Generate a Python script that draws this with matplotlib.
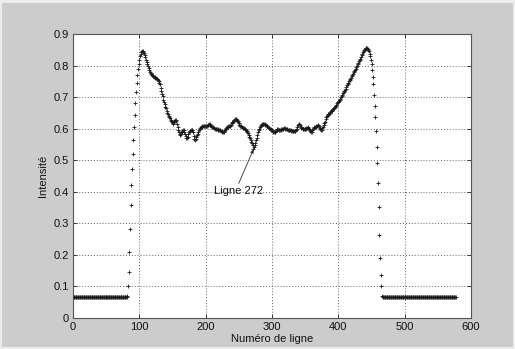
import numpy as np
import matplotlib
matplotlib.use("Agg")
import matplotlib.pyplot as plt
from matplotlib.patches import Rectangle

plt.rcParams['font.family'] = ['Liberation Sans', 'DejaVu Sans']

# ---- data (intensity per line number) ----
flat_left = [0.065] * 81          # lines 1..81
profile = [                        # lines 82..466
    0.070, 0.101, 0.147, 0.209, 0.282, 0.359, 0.420, 0.473, 0.520, 0.563,
    0.604, 0.644, 0.680, 0.716, 0.746, 0.769, 0.788, 0.805, 0.818, 0.829,
    0.837, 0.842, 0.845, 0.846, 0.843, 0.839, 0.834, 0.827, 0.819, 0.811,
    0.805, 0.798, 0.792, 0.786, 0.781, 0.777, 0.773, 0.770, 0.768, 0.766,
    0.764, 0.763, 0.761, 0.760, 0.758, 0.756, 0.754, 0.751, 0.746, 0.740,
    0.730, 0.720, 0.710, 0.703, 0.692, 0.685, 0.678, 0.670, 0.664, 0.656,
    0.650, 0.645, 0.640, 0.636, 0.633, 0.628, 0.624, 0.620, 0.618, 0.616,
    0.620, 0.624, 0.627, 0.629, 0.625, 0.615, 0.606, 0.597, 0.590, 0.584,
    0.580, 0.583, 0.588, 0.593, 0.596, 0.595, 0.590, 0.583, 0.576, 0.571,
    0.570, 0.575, 0.582, 0.588, 0.592, 0.594, 0.596, 0.597, 0.597, 0.590,
    0.578, 0.568, 0.565, 0.568, 0.574, 0.579, 0.583, 0.588, 0.595, 0.600,
    0.603, 0.605, 0.606, 0.608, 0.608, 0.607, 0.609, 0.608, 0.607, 0.608,
    0.610, 0.612, 0.613, 0.614, 0.614, 0.612, 0.609, 0.606, 0.604, 0.604,
    0.603, 0.601, 0.600, 0.599, 0.599, 0.598, 0.598, 0.597, 0.596, 0.596,
    0.596, 0.594, 0.592, 0.590, 0.589, 0.589, 0.592, 0.596, 0.600, 0.603,
    0.604, 0.606, 0.607, 0.608, 0.609, 0.610, 0.613, 0.617, 0.620, 0.622,
    0.625, 0.628, 0.631, 0.632, 0.630, 0.627, 0.624, 0.621, 0.617, 0.613,
    0.610, 0.608, 0.607, 0.605, 0.603, 0.602, 0.601, 0.600, 0.598, 0.595,
    0.592, 0.589, 0.585, 0.580, 0.575, 0.570, 0.565, 0.559, 0.553, 0.547,
    0.534, 0.541, 0.548, 0.556, 0.565, 0.572, 0.580, 0.588, 0.595, 0.600,
    0.605, 0.609, 0.612, 0.614, 0.615, 0.616, 0.615, 0.614, 0.613, 0.612,
    0.610, 0.607, 0.605, 0.603, 0.602, 0.600, 0.598, 0.597, 0.595, 0.593,
    0.591, 0.589, 0.588, 0.590, 0.593, 0.596, 0.598, 0.598, 0.597, 0.596,
    0.596, 0.597, 0.598, 0.599, 0.600, 0.600, 0.601, 0.601, 0.600, 0.599,
    0.598, 0.598, 0.597, 0.597, 0.596, 0.596, 0.595, 0.594, 0.594, 0.593,
    0.594, 0.593, 0.593, 0.593, 0.595, 0.600, 0.606, 0.611, 0.614, 0.615,
    0.611, 0.606, 0.602, 0.601, 0.600, 0.599, 0.598, 0.598, 0.598, 0.599,
    0.601, 0.603, 0.604, 0.603, 0.600, 0.596, 0.592, 0.590, 0.590, 0.595,
    0.600, 0.602, 0.604, 0.604, 0.606, 0.608, 0.610, 0.612, 0.612, 0.608,
    0.603, 0.598, 0.596, 0.597, 0.601, 0.606, 0.612, 0.618, 0.622, 0.630,
    0.636, 0.640, 0.643, 0.645, 0.647, 0.650, 0.653, 0.655, 0.657, 0.660,
    0.662, 0.664, 0.667, 0.669, 0.672, 0.676, 0.680, 0.683, 0.685, 0.688,
    0.691, 0.694, 0.699, 0.704, 0.708, 0.712, 0.716, 0.719, 0.722, 0.727,
    0.732, 0.737, 0.742, 0.746, 0.750, 0.754, 0.758, 0.762, 0.766, 0.770,
    0.774, 0.778, 0.782, 0.786, 0.790, 0.795, 0.799, 0.804, 0.808, 0.813,
    0.818, 0.822, 0.827, 0.832, 0.837, 0.842, 0.846, 0.850, 0.853, 0.856,
    0.857, 0.856, 0.854, 0.850, 0.845, 0.838, 0.829, 0.818, 0.804, 0.786,
    0.764, 0.740, 0.707, 0.673, 0.636, 0.592, 0.543, 0.490, 0.427, 0.351,
    0.263, 0.189, 0.135, 0.100, 0.070,
]
flat_right = [0.065] * 111        # lines 467..577

intensite = np.array(flat_left + profile + flat_right)
lignes = np.arange(1, len(intensite) + 1)

x_ticks = [0, 100, 200, 300, 400, 500, 600]
y_ticks = [0, 0.1, 0.2, 0.3, 0.4, 0.5, 0.6, 0.7, 0.8, 0.9]
y_tick_labels = ['0', '0.1', '0.2', '0.3', '0.4', '0.5', '0.6', '0.7', '0.8', '0.9']
ligne_annotee = 272

# ---- figure ----
W, H = 515, 349
fig = plt.figure(figsize=(W / 100, H / 100), dpi=100, facecolor='#ececec')
fig.patches.append(Rectangle((2 / W, 2 / H), (W - 4) / W, (H - 5) / H,
                             transform=fig.transFigure, facecolor='#cccccc',
                             edgecolor='none', zorder=-10))

ax = fig.add_axes([73 / W, 31 / H, 398 / W, 284 / H])
ax.set_facecolor('white')
ax.plot(lignes, intensite, '+', color='#1a1a1a', ms=3.3, mew=0.6, zorder=3)

ax.set_xlim(0, 600)
ax.set_ylim(0, 0.9)
ax.set_xticks(x_ticks)
ax.set_yticks(y_ticks)
ax.set_yticklabels(y_tick_labels)
ax.grid(True, linestyle=(0, (1, 2)), color='#666666', linewidth=0.7)
ax.set_axisbelow(True)
ax.tick_params(direction='in', top=True, right=True, length=3, width=0.7,
               labelsize=8, colors='#333333', labelcolor='#111111', pad=3)
for s in ax.spines.values():
    s.set_color('#555555')
    s.set_linewidth(0.8)

ax.set_xlabel('Numéro de ligne', fontsize=8, color='#111111', labelpad=1)
ax.set_ylabel('Intensité', fontsize=8, color='#111111', labelpad=4)

idx = int(np.where(lignes == ligne_annotee)[0][0])
ax.annotate('Ligne 272', xy=(lignes[idx], intensite[idx]),
            xytext=(212.5, 0.402), textcoords='data',
            ha='left', va='center', fontsize=8, color='#111111',
            arrowprops=dict(arrowstyle='-|>', color='#333333', lw=0.6,
                            mutation_scale=5, shrinkA=0, shrinkB=0,
                            relpos=(0.48, 1.0)))

fig.savefig('out.png', dpi=100, facecolor=fig.get_facecolor())
